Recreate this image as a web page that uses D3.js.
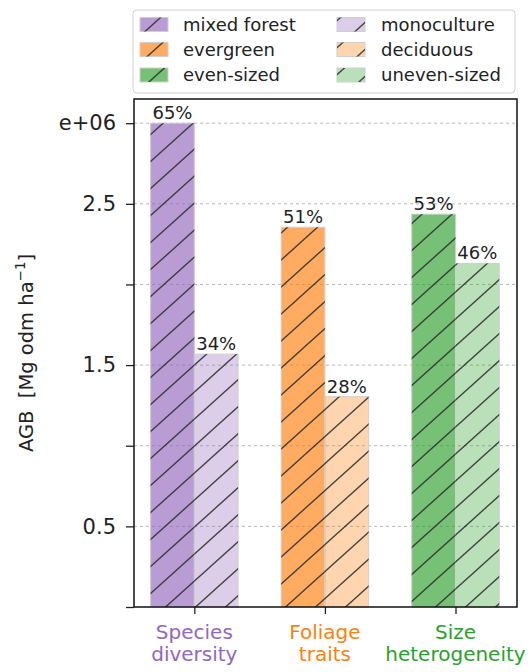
<!DOCTYPE html>
<html>
<head>
<meta charset="utf-8">
<script src="https://cdn.jsdelivr.net/npm/d3@7"></script>
<style>
  html, body { margin: 0; padding: 0; background: #fff; }
  svg { display: block; font-family: "DejaVu Sans", sans-serif; }
</style>
</head>
<body>
<svg id="chart" width="528" height="672"></svg>
<script>
// Groups along the x axis and their label colours
const groups = [["Species", "diversity"], ["Foliage", "traits"], ["Size", "heterogeneity"]];
const groupColors = ["#9467bd", "#ff7f0e", "#2ca02c"];

// Paired series: first bar (darker) and second bar (lighter) of each group
const firstNames = ["mixed forest", "evergreen", "even-sized"];
const secondNames = ["monoculture", "deciduous", "uneven-sized"];
const firstValues = [3.0, 2.355, 2.436];
const secondValues = [1.568, 1.304, 2.13];
const firstLabels = ["65%", "51%", "53%"];
const secondLabels = ["34%", "28%", "46%"];

// Y axis ticks and their printed labels
const yTicks = [0, 0.5, 1.0, 1.5, 2.0, 2.5, 3.0];
const yTickLabels = ["", "0.5", "", "1.5", "", "2.5", "e+06"];

const svg = d3.select("#chart");
const plotLeft = 134, plotRight = 517, plotTop = 99, plotBottom = 607;
const barW = 0.335;

const x = d3.scaleLinear().domain([-0.462, 2.471]).range([plotLeft, plotRight]);
const y = d3.scaleLinear().domain([0, 3.15]).range([plotBottom, plotTop]);

// Diagonal hatch pattern, anchored to the page so it runs across neighbouring bars
const defs = svg.append("defs");
const pat = defs.append("pattern")
  .attr("id", "hatch")
  .attr("patternUnits", "userSpaceOnUse")
  .attr("width", 30).attr("height", 27);
pat.append("path")
  .attr("d", "M0,27 L30,0 M-3,2.7 L3,-2.7 M27,29.7 L33,24.3")
  .attr("stroke", "#2b2b2b")
  .attr("stroke-opacity", 0.85)
  .attr("stroke-width", 1.4)
  .attr("fill", "none");

// Dashed horizontal grid
svg.append("g")
  .selectAll("line")
  .data(yTicks.filter(d => d > 0))
  .join("line")
  .attr("x1", plotLeft).attr("x2", plotRight)
  .attr("y1", d => y(d)).attr("y2", d => y(d))
  .attr("stroke", "#b8b8b8")
  .attr("stroke-width", 1)
  .attr("stroke-dasharray", "3,3");

// Bars
const bars = [];
groups.forEach((g, i) => {
  bars.push({ x0: i - barW, x1: i, v: firstValues[i], color: groupColors[i], op: 0.65, label: firstLabels[i] });
  bars.push({ x0: i, x1: i + barW, v: secondValues[i], color: groupColors[i], op: 0.33, label: secondLabels[i] });
});

const barG = svg.append("g");
barG.selectAll("rect.fill")
  .data(bars)
  .join("rect")
  .attr("class", "fill")
  .attr("x", d => x(d.x0))
  .attr("width", d => x(d.x1) - x(d.x0))
  .attr("y", d => y(d.v))
  .attr("height", d => y(0) - y(d.v))
  .attr("fill", d => d.color)
  .attr("fill-opacity", d => d.op)
  .attr("stroke", "#cfcfcf")
  .attr("stroke-width", 1);
barG.selectAll("rect.hatch")
  .data(bars)
  .join("rect")
  .attr("class", "hatch")
  .attr("x", d => x(d.x0))
  .attr("width", d => x(d.x1) - x(d.x0))
  .attr("y", d => y(d.v))
  .attr("height", d => y(0) - y(d.v))
  .attr("fill", "url(#hatch)");

// Percent labels above each bar
svg.append("g")
  .selectAll("text")
  .data(bars)
  .join("text")
  .attr("x", d => (x(d.x0) + x(d.x1)) / 2)
  .attr("y", d => y(d.v) - 4)
  .attr("text-anchor", "middle")
  .attr("font-size", 18)
  .attr("fill", "#222")
  .text(d => d.label);

// Y axis
const yAxis = d3.axisLeft(y)
  .tickValues(yTicks)
  .tickFormat((d, i) => yTickLabels[i])
  .tickSize(8)
  .tickPadding(10);
const yg = svg.append("g").attr("transform", `translate(${plotLeft},0)`).call(yAxis);
yg.select(".domain").remove();
yg.selectAll(".tick line").attr("stroke", "#222").attr("stroke-width", 1.3);
yg.selectAll(".tick text")
  .attr("font-family", "DejaVu Sans, sans-serif")
  .attr("font-size", 21)
  .attr("fill", "#222");

// X axis ticks at group centres
const xAxis = d3.axisBottom(x)
  .tickValues(groups.map((g, i) => i))
  .tickFormat("")
  .tickSize(7);
const xg = svg.append("g").attr("transform", `translate(0,${plotBottom})`).call(xAxis);
xg.select(".domain").remove();
xg.selectAll(".tick line").attr("stroke", "#222").attr("stroke-width", 1.3);

// Two-line group labels in the group colour
const xl = svg.append("g")
  .selectAll("text")
  .data(groups)
  .join("text")
  .attr("x", (d, i) => x(i))
  .attr("y", 639)
  .attr("text-anchor", "middle")
  .attr("font-size", 20)
  .attr("fill", (d, i) => groupColors[i]);
xl.each(function(d) {
  const t = d3.select(this);
  d.forEach((line, j) => {
    t.append("tspan").attr("x", t.attr("x")).attr("dy", j === 0 ? 0 : 22).text(line);
  });
});

// Plot frame
svg.append("rect")
  .attr("x", plotLeft).attr("y", plotTop)
  .attr("width", plotRight - plotLeft).attr("height", plotBottom - plotTop)
  .attr("fill", "none")
  .attr("stroke", "#111")
  .attr("stroke-width", 1.5);

// Y axis title, centred on the plot height (double space kept)
const yt = svg.append("text")
  .attr("transform", `translate(33,${(plotTop + plotBottom) / 2}) rotate(-90)`)
  .attr("text-anchor", "middle")
  .attr("font-size", 19.5)
  .style("white-space", "pre")
  .attr("fill", "#222");
yt.append("tspan").text("AGB  [Mg odm ha");
yt.append("tspan").attr("font-size", 13.5).attr("dy", -8).text("\u22121");
yt.append("tspan").attr("dy", 8).text("]");

// Legend
const lg = svg.append("g");
lg.append("rect")
  .attr("x", 133).attr("y", 10)
  .attr("width", 382).attr("height", 83)
  .attr("rx", 4)
  .attr("fill", "#fff")
  .attr("stroke", "#d0d0d0")
  .attr("stroke-width", 1);
const legendItems = [];
groups.forEach((g, i) => {
  legendItems.push({ name: firstNames[i], color: groupColors[i], op: 0.65, col: 0, row: i });
  legendItems.push({ name: secondNames[i], color: groupColors[i], op: 0.33, col: 1, row: i });
});
const colPatchX = [140, 337];
const colTextX = [183, 381];
const rowY = [24.5, 49.5, 75];
const li = lg.selectAll("g.item").data(legendItems).join("g").attr("class", "item");
li.append("rect")
  .attr("x", d => colPatchX[d.col]).attr("y", d => rowY[d.row] - 7)
  .attr("width", 28).attr("height", 14)
  .attr("fill", d => d.color).attr("fill-opacity", d => d.op)
  .attr("stroke", "#cfcfcf");
li.append("rect")
  .attr("x", d => colPatchX[d.col]).attr("y", d => rowY[d.row] - 7)
  .attr("width", 28).attr("height", 14)
  .attr("fill", "url(#hatch)");
li.append("text")
  .attr("x", d => colTextX[d.col]).attr("y", d => rowY[d.row] + 6)
  .attr("font-size", 18)
  .attr("fill", "#222")
  .text(d => d.name);
</script>
</body>
</html>
